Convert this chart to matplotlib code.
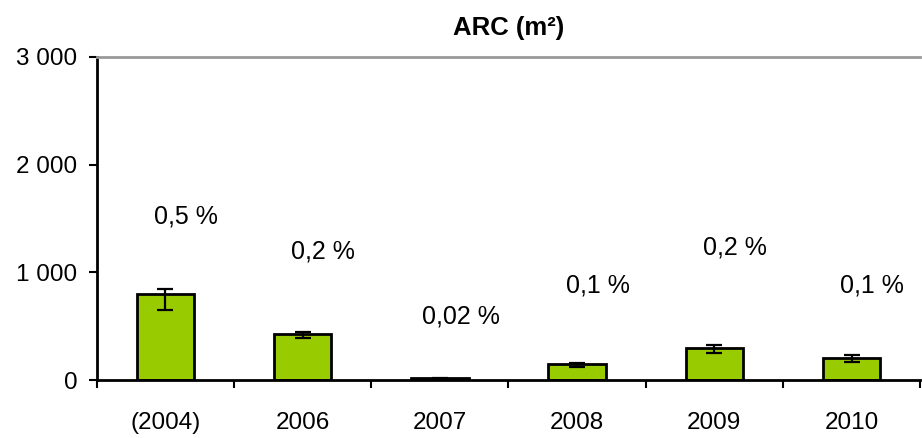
import numpy as np
import matplotlib.pyplot as plt
from matplotlib.ticker import FixedLocator, FuncFormatter

plt.rcParams['font.family'] = ['Liberation Sans', 'DejaVu Sans']

years = ['(2004)', '2006', '2007', '2008', '2009', '2010']
area = [800, 425, 15, 150, 300, 200]
err_low = [150, 35, 5, 30, 50, 30]
err_high = [45, 25, 5, 12, 27, 28]
shares = ['0,5 %', '0,2 %', '0,02 %', '0,1 %', '0,2 %', '0,1 %']
label_y = [1515, 1195, 590, 880, 1230, 880]

fig = plt.figure(figsize=(9.22, 4.38), dpi=100)
ax = fig.add_axes([0.105, 0.1324, 0.893, 0.7375])

x = np.arange(len(years))
ax.bar(x, area, width=0.42, color='#99CC00', edgecolor='black', linewidth=2, zorder=2)
ax.errorbar(x, area, yerr=[err_low, err_high], fmt='none', ecolor='black',
            elinewidth=1.6, capsize=5.5, capthick=1.6, zorder=3)

for i, (s, yy) in enumerate(zip(shares, label_y)):
    ax.text(i + 0.15, yy, s, ha='center', va='center', fontsize=18)

ax.set_xlim(-0.5, len(years) - 0.5)
ax.set_ylim(0, 3000)
ax.set_yticks([0, 1000, 2000, 3000])
ax.yaxis.set_major_formatter(FuncFormatter(lambda v, p: f'{int(v):,}'.replace(',', ' ')))
ax.set_xticks(x)
ax.set_xticklabels(years)
ax.xaxis.set_minor_locator(FixedLocator(np.arange(-0.5, len(years), 1.0)))
ax.tick_params(axis='x', which='major', length=0, pad=23, labelsize=17.5)
ax.tick_params(axis='x', which='minor', length=6, width=1.5, direction='out')
ax.tick_params(axis='y', length=6, width=1.5, direction='out', labelsize=17.5, pad=8)

ax.spines['right'].set_visible(False)
ax.spines['top'].set_color('#999999')
ax.spines['top'].set_linewidth(2)
ax.spines['left'].set_linewidth(2)
ax.spines['bottom'].set_linewidth(2)

ax.set_title('ARC (m²)', fontsize=18.5, fontweight='bold', pad=16)

fig.savefig('out.png', dpi=100)
